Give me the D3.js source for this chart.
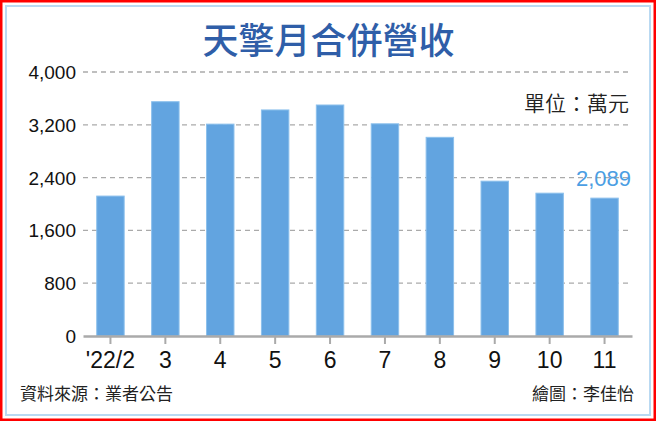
<!DOCTYPE html>
<html>
<head>
<meta charset="utf-8">
<script src="https://cdn.jsdelivr.net/npm/d3@7"></script>
<style>
  body { margin: 0; background: #fff; }
  svg { display: block; }
</style>
</head>
<body>
<svg id="chart"></svg>
<script>
// chart data
var months = ["'22/2", "3", "4", "5", "6", "7", "8", "9", "10", "11"];
var revenue = [2120, 3550, 3210, 3425, 3500, 3215, 3010, 2346, 2164, 2089];
var yTicks = [0, 800, 1600, 2400, 3200, 4000];

var W = 656, H = 421;
var margin = {top: 72, right: 24, bottom: 85, left: 83},
  width = W - margin.left - margin.right,
  height = H - margin.top - margin.bottom;

var svg = d3.select("#chart")
  .attr("width", W)
  .attr("height", H);

// frame: red outer, light blue inner
svg.append("rect")
  .attr("x", 1.25).attr("y", 1.25)
  .attr("width", W - 2.5).attr("height", H - 2.5)
  .attr("fill", "#fff")
  .attr("stroke", "#ff0000")
  .attr("stroke-width", 2.5);
svg.append("rect")
  .attr("x", 6).attr("y", 6)
  .attr("width", W - 12).attr("height", H - 12)
  .attr("fill", "none")
  .attr("stroke", "#b9d9f2")
  .attr("stroke-width", 2);

// title
svg.append("text")
  .attr("x", W / 2 + 0.5)
  .attr("y", 54)
  .attr("text-anchor", "middle")
  .attr("font-family", "'Noto Sans CJK TC', 'Noto Sans CJK SC', sans-serif")
  .attr("font-weight", 500)
  .attr("font-size", 36)
  .attr("fill", "#2f5ea8")
  .text("天擎月合併營收");

var g = svg.append("g")
  .attr("transform", "translate(" + margin.left + "," + margin.top + ")");

var x = d3.scaleBand()
  .domain(months)
  .range([0, width])
  .paddingInner(0.5)
  .paddingOuter(0.25);

var y = d3.scaleLinear()
  .domain([0, 4000])
  .range([height, 0]);

// dashed gridlines
g.append("g")
  .selectAll("line")
  .data(yTicks.filter(function(d) { return d > 0; }))
  .enter()
  .append("line")
  .attr("x1", 0)
  .attr("x2", width)
  .attr("y1", function(d) { return y(d); })
  .attr("y2", function(d) { return y(d); })
  .attr("stroke", "#aaaaaa")
  .attr("stroke-width", 1.3)
  .attr("stroke-dasharray", "5,4");

// y labels
g.append("g")
  .selectAll("text")
  .data(yTicks)
  .enter()
  .append("text")
  .attr("x", -7)
  .attr("y", function(d) { return y(d) + 7; })
  .attr("text-anchor", "end")
  .attr("font-family", "'Liberation Sans', Arial, sans-serif")
  .attr("font-size", 19)
  .attr("fill", "#111")
  .text(function(d) { return d3.format(",")(d); });

// bars
g.selectAll("rect.bar")
  .data(revenue)
  .enter()
  .append("rect")
  .attr("class", "bar")
  .attr("x", function(d, i) { return x(months[i]); })
  .attr("y", function(d) { return y(d); })
  .attr("width", x.bandwidth())
  .attr("height", function(d) { return height - y(d); })
  .attr("fill", "#62a4e0")
  .attr("stroke", "#8cc0ec")
  .attr("stroke-width", 1);

// x axis
var xAxis = g.append("g")
  .attr("transform", "translate(0," + height + ")")
  .call(d3.axisBottom(x).tickSize(8).tickSizeOuter(0).tickPadding(8));

xAxis.select(".domain")
  .attr("stroke", "#aaaaaa")
  .attr("stroke-width", 2.5);
xAxis.selectAll(".tick line")
  .attr("stroke", "#aaaaaa")
  .attr("stroke-width", 2);
xAxis.selectAll(".tick text")
  .attr("font-family", "'Liberation Sans', Arial, sans-serif")
  .attr("font-size", 23)
  .attr("fill", "#111");

// last value label
var last = revenue.length - 1;
g.append("text")
  .attr("x", x(months[last]) + x.bandwidth() / 2 - 1)
  .attr("y", y(revenue[last]) - 12)
  .attr("text-anchor", "middle")
  .attr("font-family", "'Liberation Sans', Arial, sans-serif")
  .attr("font-size", 22)
  .attr("fill", "#4b9ee3")
  .text(d3.format(",")(revenue[last]));

// unit
svg.append("text")
  .attr("x", 629)
  .attr("y", 111)
  .attr("text-anchor", "end")
  .attr("font-family", "'Noto Sans CJK TC', sans-serif")
  .attr("font-weight", 350)
  .attr("font-size", 21)
  .attr("fill", "#222")
  .text("單位：萬元");

// footer
svg.append("text")
  .attr("x", 20)
  .attr("y", 400)
  .attr("font-family", "'Noto Sans CJK TC', sans-serif")
  .attr("font-size", 17)
  .attr("fill", "#222")
  .text("資料來源：業者公告");

svg.append("text")
  .attr("x", 634)
  .attr("y", 400)
  .attr("text-anchor", "end")
  .attr("font-family", "'Noto Sans CJK TC', sans-serif")
  .attr("font-size", 17)
  .attr("fill", "#222")
  .text("繪圖：李佳怡");
</script>
</body>
</html>
